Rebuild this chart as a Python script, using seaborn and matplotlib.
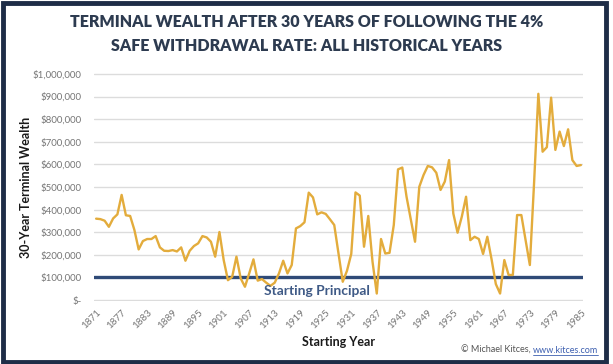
import matplotlib
matplotlib.use("Agg")
import matplotlib.pyplot as plt
import matplotlib.lines as lines
from matplotlib.patches import Rectangle
import numpy as np
import pandas as pd
import seaborn as sns

# Dados (riqueza terminal após 30 anos, em dólares)
anos = list(range(1871, 1986))
riqueza = [
    360000, 358000, 351000, 324000, 361000, 379000, 465000, 375000, 372000, 310000,
    224000, 261000, 270000, 270000, 283000, 233000, 218000, 217000, 221000, 215000,
    233000, 174000, 218000, 239000, 251000, 283000, 277000, 258000, 192000, 301000,
    177000, 88000, 103000, 192000, 96000, 59000, 118000, 180000, 86000, 93000,
    77000, 63000, 77000, 118000, 174000, 118000, 155000, 317000, 327000, 344000,
    475000, 454000, 379000, 388000, 381000, 357000, 332000, 206000, 81000, 130000,
    204000, 476000, 462000, 236000, 372000, 170000, 29000, 270000, 206000, 209000,
    332000, 578000, 586000, 457000, 357000, 258000, 501000, 553000, 593000, 587000,
    563000, 487000, 524000, 619000, 383000, 298000, 369000, 457000, 265000, 280000,
    270000, 204000, 280000, 180000, 71000, 29000, 177000, 111000, 111000, 376000,
    376000, 265000, 155000, 520000, 912000, 656000, 676000, 895000, 664000, 745000,
    681000, 755000, 619000, 593000, 597000,
]
principal = 100000
anos_ticks = list(range(1871, 1986, 6))
y_ticks = list(range(0, 1000001, 100000))
y_labels = ["$-"] + ["${:,.0f}".format(v) for v in y_ticks[1:]]

df = pd.DataFrame({"ano": anos, "riqueza": riqueza})

sns.set_style("white")
plt.rcParams["font.family"] = ["Lato", "DejaVu Sans"]

W, H = 613, 364
fig = plt.figure(figsize=(W / 100, H / 100), dpi=100)
ax = fig.add_axes([94 / W, 1 - 301 / H, (583 - 94) / W, (301 - 73) / H])

for v in y_ticks:
    ax.axhline(v, color="#dcdcdc", lw=1, zorder=0)

ax.axhline(principal, color="#2f4a77", lw=2.4, zorder=2)
sns.lineplot(data=df, x="ano", y="riqueza", ax=ax, color="#e3ac3c", lw=1.7, zorder=3)

ax.text(1923, 40000, "Starting Principal", color="#3f5a86", fontsize=10,
        fontweight="bold", ha="center", va="center")

ax.set_xlim(1870.5, 1985.5)
ax.set_ylim(-4000, 1004000)
ax.set_yticks(y_ticks)
ax.set_yticklabels(y_labels)
ax.set_xticks(anos_ticks)
ax.set_xticklabels([str(a) for a in anos_ticks], rotation=45, ha="right",
                   rotation_mode="anchor")
ax.tick_params(axis="both", colors="#757575", labelsize=7, length=0)
ax.tick_params(axis="y", pad=9)
ax.tick_params(axis="x", pad=5)
for s in ax.spines.values():
    s.set_visible(False)

ax.set_xlabel("Starting Year", fontsize=9, fontweight="bold", color="#1a1a1a", labelpad=4)
ax.set_ylabel("30-Year Terminal Wealth", fontsize=9, fontweight="bold", color="#1a1a1a")
ax.yaxis.set_label_coords(-0.127, 0.5)

fig.text(0.5, 1 - 22 / H, "TERMINAL WEALTH AFTER 30 YEARS OF FOLLOWING THE 4%",
         ha="center", va="center", fontsize=11.5, fontweight="heavy", color="#2d3b50")
fig.text(0.5, 1 - 46 / H, "SAFE WITHDRAWAL RATE: ALL HISTORICAL YEARS",
         ha="center", va="center", fontsize=11.5, fontweight="heavy", color="#2d3b50")

# Crédito com link sublinhado
url = fig.text(598 / W, 1 - 353 / H, "www.kitces.com", ha="right", va="baseline",
               fontsize=6.5, color="#3d5fb0")
fig.canvas.draw()
bb = url.get_window_extent().transformed(fig.transFigure.inverted())
fig.text(bb.x0, 1 - 353 / H, "\u00a9 Michael Kitces, ", ha="right", va="baseline",
         fontsize=6.5, color="#555555")
fig.add_artist(lines.Line2D([bb.x0, bb.x1], [1 - 355 / H, 1 - 355 / H],
                            transform=fig.transFigure, color="#3d5fb0", lw=0.6))

# Moldura azul-marinho
fig.add_artist(Rectangle((2.5 / W, 2.5 / H), (606 - 2.5) / W, (361 - 2.5) / H,
                         transform=fig.transFigure, fill=False, edgecolor="#1e2d47",
                         lw=3.5))

plt.savefig("out.png", dpi=100)
